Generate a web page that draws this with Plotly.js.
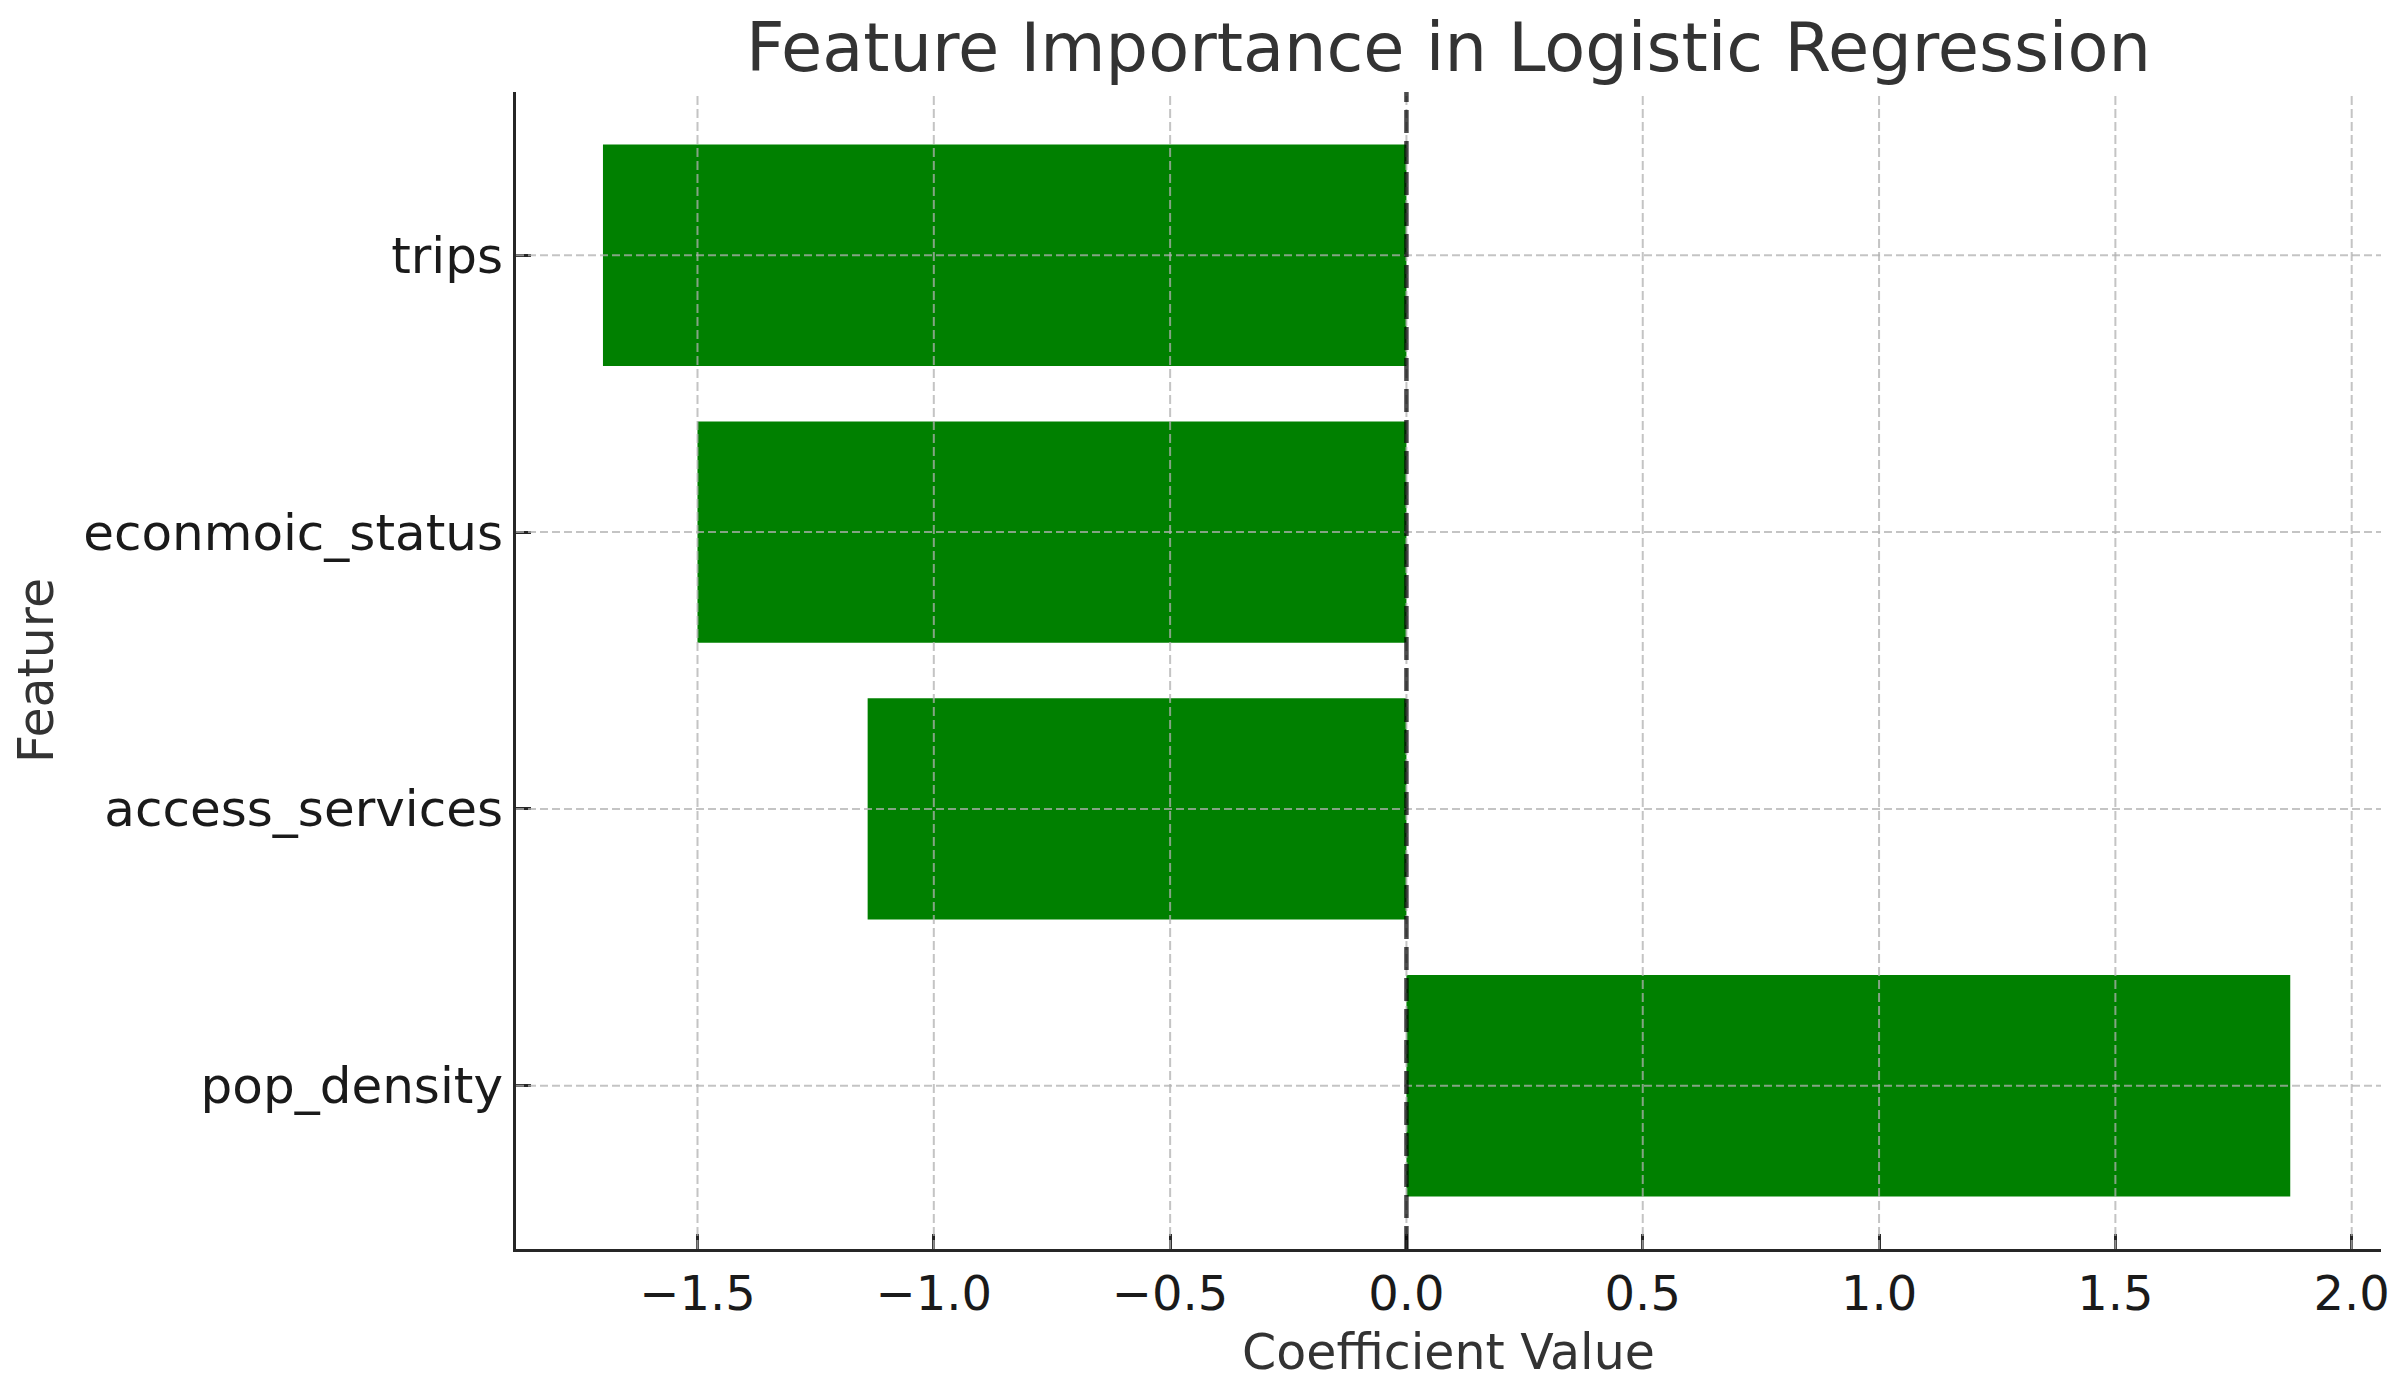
<!DOCTYPE html>
<html>
<head>
<meta charset="utf-8">
<script src="https://cdn.plot.ly/plotly-3.0.1.min.js"></script>
<style>
  html, body { margin: 0; padding: 0; background: #ffffff; }
  #chart { width: 2405px; height: 1383px; }
</style>
</head>
<body>
<div id="chart"></div>
<script>
// ---- data ----
const features = ["pop_density", "access_services", "econmoic_status", "trips"];
const coefficients = [1.87, -1.14, -1.50, -1.70];
const xTickValues = [-1.5, -1.0, -0.5, 0.0, 0.5, 1.0, 1.5, 2.0];
const xTickLabels = ["\u22121.5", "\u22121.0", "\u22120.5", "0.0", "0.5", "1.0", "1.5", "2.0"];
const chartTitle = "Feature Importance in Logistic Regression";
const xTitle = "Coefficient Value";
const yTitle = "Feature";

// ---- styling ----
const FONT = "DejaVu Sans";
const gridColor = "rgba(176,176,176,0.75)";
const spineColor = "#262626";

const shapes = [];
// vertical grid lines (drawn above bars, as in the reference)
xTickValues.forEach(v => shapes.push({
  type: "line", xref: "x", yref: "paper", x0: v, x1: v, y0: 0, y1: 1,
  line: { color: gridColor, width: 2, dash: "9px,4px" }, layer: "above"
}));
// horizontal grid lines at categories
features.forEach(f => shapes.push({
  type: "line", xref: "paper", yref: "y", x0: 0, x1: 1, y0: f, y1: f,
  line: { color: gridColor, width: 2, dash: "8px,4px" }, layer: "above"
}));
// zero reference line
shapes.push({
  type: "line", xref: "x", yref: "paper", x0: 0, x1: 0, y0: 0, y1: 1,
  line: { color: "rgba(0,0,0,0.7)", width: 4.5, dash: "23px,8px" }, layer: "above"
});

const trace = {
  type: "bar",
  orientation: "h",
  x: coefficients,
  y: features,
  width: 0.8,
  marker: { color: "#008000", line: { width: 0 } },
  hoverinfo: "x+y"
};

const layout = {
  width: 2405,
  height: 1383,
  margin: { l: 516, r: 24, t: 92, b: 134, pad: 0 },
  paper_bgcolor: "#ffffff",
  plot_bgcolor: "#ffffff",
  showlegend: false,
  bargap: 0.2,
  title: {
    text: chartTitle,
    font: { family: FONT, size: 67, color: "#333333" },
    xref: "paper", x: 0.5, xanchor: "center",
    yref: "container", y: 1 - 48 / 1383, yanchor: "middle"
  },
  xaxis: {
    range: [-1.884, 2.062],
    tickmode: "array",
    tickvals: xTickValues,
    ticktext: xTickLabels,
    showgrid: false,
    zeroline: false,
    showline: true,
    linecolor: spineColor,
    linewidth: 3,
    ticks: "inside",
    ticklen: 15,
    tickwidth: 3,
    tickcolor: spineColor,
    tickfont: { family: FONT, size: 48, color: "#1a1a1a" },
    title: { text: xTitle, font: { family: FONT, size: 49, color: "#333333" }, standoff: 16 },
    automargin: false,
    fixedrange: true
  },
  yaxis: {
    type: "category",
    categoryorder: "array",
    categoryarray: features,
    range: [-0.59, 3.59],
    showgrid: false,
    zeroline: false,
    showline: true,
    linecolor: spineColor,
    linewidth: 3,
    ticks: "inside",
    ticklen: 15,
    tickwidth: 3,
    tickcolor: spineColor,
    tickfont: { family: FONT, size: 50, color: "#1a1a1a" },
    title: { text: yTitle, font: { family: FONT, size: 49, color: "#333333" }, standoff: 14 },
    automargin: false,
    fixedrange: true
  },
  shapes: shapes
};

Plotly.newPlot("chart", [trace], layout, { displayModeBar: false, staticPlot: true });
</script>
</body>
</html>
